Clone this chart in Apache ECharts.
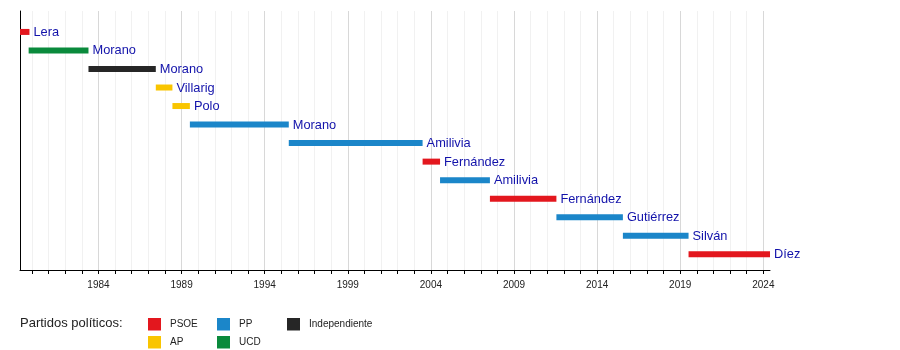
<!DOCTYPE html>
<html><head><meta charset="utf-8">
<script src="https://cdn.jsdelivr.net/npm/echarts@6/dist/echarts.min.js"></script>
<style>html,body{margin:0;padding:0;background:#fff}#c{width:900px;height:350px}</style>
</head><body><div id="c"></div>
<script>
// --- data ---
const mayors  = ['Lera','Morano','Morano','Villarig','Polo','Morano','Amilivia','Fernández','Amilivia','Fernández','Gutiérrez','Silván','Díez'];
const parties = ['PSOE','UCD','Independiente','AP','AP','PP','PP','PSOE','PP','PSOE','PP','PP','PSOE'];
const starts  = [1979.28, 1979.8, 1983.4, 1987.45, 1988.45, 1989.5, 1995.45, 2003.5, 2004.55, 2007.55, 2011.55, 2015.55, 2019.5];
const ends    = [1979.85, 1983.4, 1987.45, 1988.45, 1989.5, 1995.45, 2003.5, 2004.55, 2007.55, 2011.55, 2015.55, 2019.5, 2024.4];
const partyNames  = ['PSOE','AP','PP','UCD','Independiente'];
const partyColors = ['#e3171e','#f9c500','#1b86c9','#0a8a3c','#262626'];
const labelYears = [1984, 1989, 1994, 1999, 2004, 2009, 2014, 2019, 2024];
const tickYears = [];
for (let y = 1980; y <= 2024; y++) tickYears.push(y);
const axisMin = 1979.28, axisMax = 2024.4;

const FONT = '"Liberation Sans", Arial, sans-serif';

function makeRender(color) {
  return function (params, api) {
    const s = api.coord([api.value(0), api.value(2)]);
    const e = api.coord([api.value(1), api.value(2)]);
    const h = 6;
    const name = mayors[api.value(3)];
    return {
      type: 'group',
      children: [
        { type: 'rect', shape: { x: s[0], y: s[1] - h / 2, width: e[0] - s[0], height: h }, style: { fill: color } },
        { type: 'text', x: e[0] + 4, y: s[1] + 0.5,
          style: { text: name, fill: '#1212aa', font: '12.8px ' + FONT,
                   align: 'left', verticalAlign: 'middle', textAlign: 'left', textVerticalAlign: 'middle' } }
      ]
    };
  };
}

const series = partyNames.map((p, pi) => {
  const data = [];
  for (let i = 0; i < mayors.length; i++) {
    if (parties[i] === p) data.push([starts[i], ends[i], i, i]);
  }
  const s = {
    name: p,
    type: 'custom',
    renderItem: makeRender(partyColors[pi]),
    itemStyle: { color: partyColors[pi] },
    encode: { x: [0, 1], y: 2 },
    data: data,
    z: 3,
    clip: false,
    animation: false
  };
  if (pi === 0) {
    s.markLine = {
      silent: true, symbol: 'none', z: 1, animation: false,
      label: { show: false },
      data: tickYears.map(y => ({
        xAxis: y,
        lineStyle: { color: labelYears.includes(y) ? '#d8d8d8' : '#f1f1f1', width: 1, type: 'solid' }
      }))
    };
  }
  return s;
});

const legendCommon = {
  orient: 'vertical', top: 318, padding: 0, itemWidth: 13, itemHeight: 12.5, itemGap: 5.5,
  icon: 'rect', selectedMode: false,
  textStyle: { fontSize: 10, color: '#222', fontFamily: FONT, padding: [0, 0, 0, 4] }
};

const option = {
  animation: false,
  backgroundColor: '#fff',
  title: {
    text: 'Partidos políticos:', left: 20, top: 317, padding: 0,
    textStyle: { fontSize: 13, fontWeight: 'normal', color: '#222', fontFamily: FONT }
  },
  legend: [
    Object.assign({ left: 148, data: ['PSOE', 'AP'] }, legendCommon),
    Object.assign({ left: 217, data: ['PP', 'UCD'] }, legendCommon),
    Object.assign({ left: 287, data: ['Independiente'] }, legendCommon)
  ],
  grid: { left: 20, right: 130, top: 11, bottom: 80, containLabel: false },
  xAxis: {
    type: 'value', min: axisMin, max: axisMax,
    axisLine: { show: true, onZero: false, lineStyle: { color: '#000', width: 1 } },
    axisTick: { show: true, length: 4, customValues: tickYears, lineStyle: { color: '#000' } },
    axisLabel: { customValues: labelYears, fontSize: 10, color: '#222', fontFamily: FONT, margin: 10,
                 formatter: v => String(Math.round(v)) },
    splitLine: { show: false }
  },
  yAxis: {
    type: 'value', inverse: true, min: -1.13, max: 12.85,
    axisLine: { show: true, onZero: false, lineStyle: { color: '#000', width: 1 } },
    axisTick: { show: false }, axisLabel: { show: false }, splitLine: { show: false }
  },
  series: series
};

const chart = echarts.init(document.getElementById('c'), null, { renderer: 'canvas' });
chart.setOption(option);
</script>
</body></html>
